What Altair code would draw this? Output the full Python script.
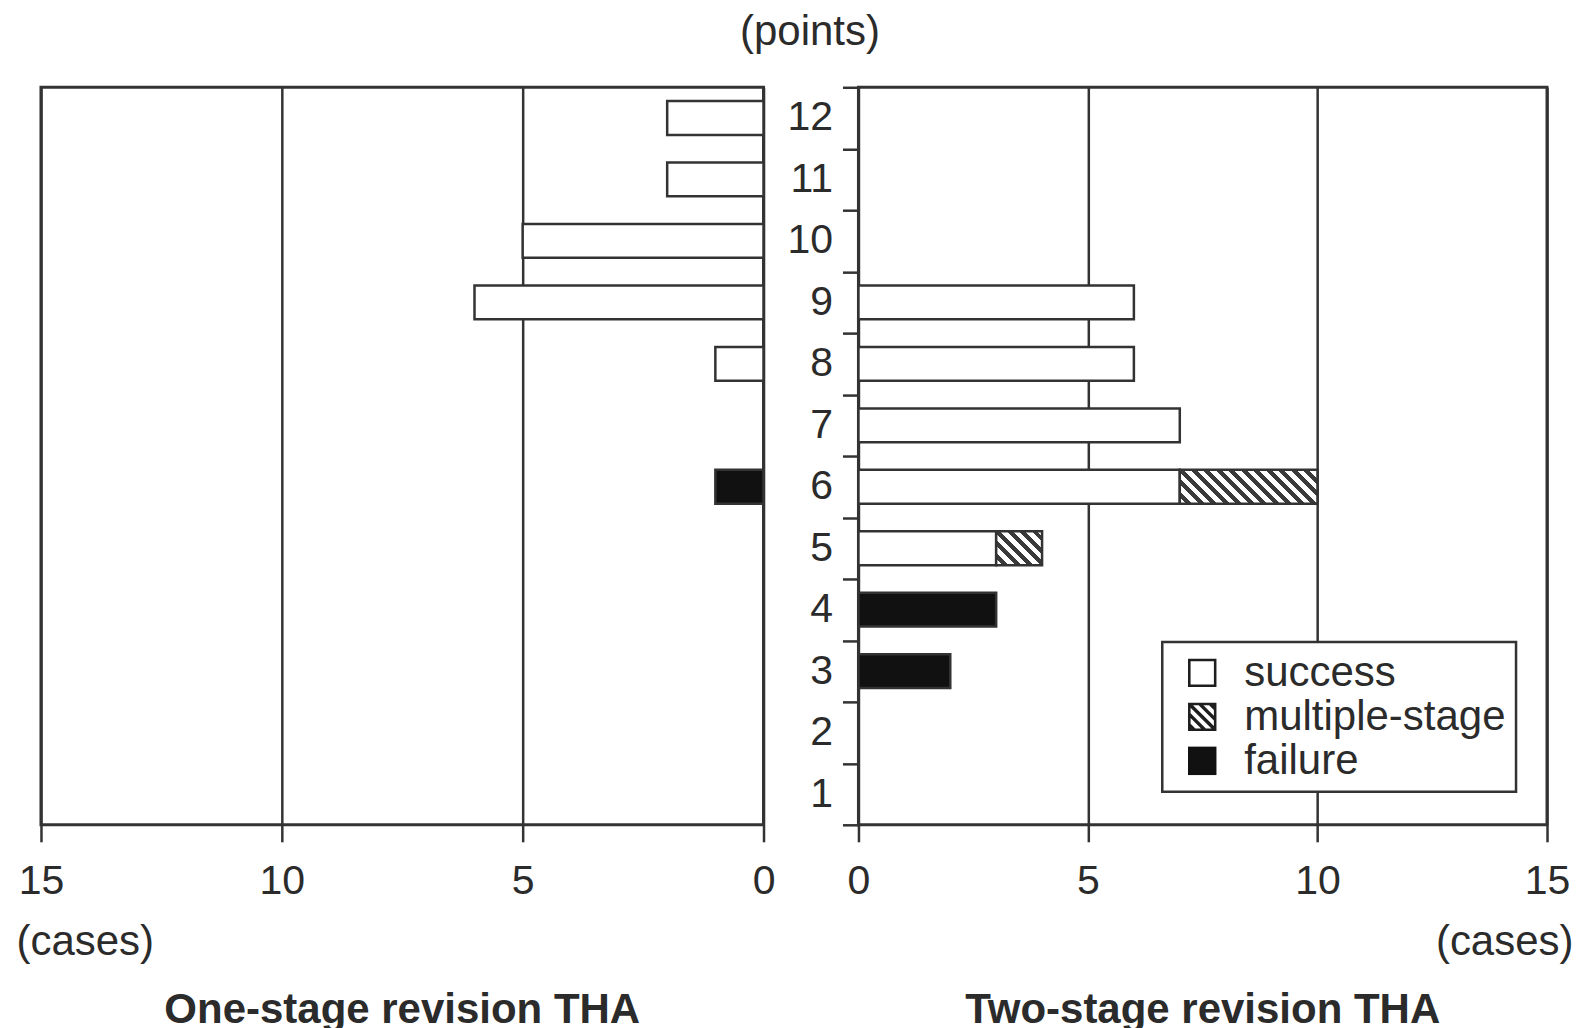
import altair as alt
import pandas as pd

# ---------------- data ----------------
points = [12, 11, 10, 9, 8, 7, 6, 5, 4, 3, 2, 1]
outcomes = ["success", "multiple-stage", "failure"]

one_success = [2, 2, 5, 6, 1, 0, 0, 0, 0, 0, 0, 0]
one_multiple = [0, 0, 0, 0, 0, 0, 0, 0, 0, 0, 0, 0]
one_failure = [0, 0, 0, 0, 0, 0, 1, 0, 0, 0, 0, 0]

two_success = [0, 0, 0, 6, 6, 7, 7, 3, 0, 0, 0, 0]
two_multiple = [0, 0, 0, 0, 0, 0, 3, 1, 0, 0, 0, 0]
two_failure = [0, 0, 0, 0, 0, 0, 0, 0, 3, 2, 0, 0]

x_ticks = [0, 5, 10, 15]
x_max = 15

# ---------------- layout / style ----------------
FONT = "Liberation Sans"
INK = "#2b2b2b"
LINE = "#333333"
HATCH_DARK = "#3a3a3a"
SYMBOL_INK = "#1e1e1e"
LEFT_W, RIGHT_W, PLOT_H = 723, 689, 738
BAR_FRAC = 0.55
STEP = PLOT_H / len(points)
BAR_H = STEP * BAR_FRAC


def long_df(succ, mult, fail):
    rows = []
    for i, p in enumerate(points):
        for rank, (o, vals) in enumerate(zip(outcomes, [succ, mult, fail])):
            if vals[i] > 0:
                rows.append({"points": p, "outcome": o, "cases": vals[i], "rank": rank})
    return pd.DataFrame(rows)


df_one = long_df(one_success, one_multiple, one_failure)
df_two = long_df(two_success, two_multiple, two_failure)


def hatch(w, h, period=12.5, dark=0.45, c_dark=HATCH_DARK, c_light="#ffffff"):
    """Diagonal '\\' stripes as a linear gradient over a w x h box."""
    k = (w + h) / (w * w + h * h)
    n = (w + h) / period
    stops = []
    j = 0
    while j < n:
        a = j / n
        b = min((j + 1 - dark) / n, 1.0)
        c = min((j + 1) / n, 1.0)
        stops += [{"offset": a, "color": c_light}, {"offset": b, "color": c_light}]
        if b < 1.0:
            stops += [{"offset": b, "color": c_dark}, {"offset": c, "color": c_dark}]
        j += 1
    return {"gradient": "linear", "x1": 0, "y1": 1, "x2": k * w, "y2": 1 - k * h, "stops": stops}


# ---- legend symbol paths in the unit box -1..1 (holes wound the other way) ----
def _clip(poly, a, b, c):
    out = []
    n = len(poly)
    for i in range(n):
        p, q = poly[i], poly[(i + 1) % n]
        fp = a * p[0] + b * p[1] - c
        fq = a * q[0] + b * q[1] - c
        if fp <= 0:
            out.append(p)
        if (fp < 0 < fq) or (fq < 0 < fp):
            t = fp / (fp - fq)
            out.append((p[0] + t * (q[0] - p[0]), p[1] + t * (q[1] - p[1])))
    return out


def _area(poly):
    n = len(poly)
    return sum(poly[i][0] * poly[(i + 1) % n][1] - poly[(i + 1) % n][0] * poly[i][1] for i in range(n))


def _path(poly):
    return "M" + "L".join(f"{x:.3f},{y:.3f}" for x, y in poly) + "Z"


def _hole(poly):
    return _path(poly[::-1] if _area(poly) > 0 else poly)


OUTER = [(-1, -1), (1, -1), (1, 1), (-1, 1)]
e = 0.82
INNER = [(-e, -e), (e, -e), (e, e), (-e, e)]

solid_path = _path(OUTER)
ring_path = _path(OUTER) + _hole(INNER)
hatch_path = _path(OUTER)
for centre in [-1.1, -0.37, 0.37, 1.1]:
    hw = 0.2
    poly = _clip(INNER, -1, 1, -(centre - hw))  # x - y >= centre - hw
    poly = _clip(poly, 1, -1, centre + hw)       # x - y <= centre + hw
    if len(poly) >= 3:
        hatch_path += _hole(poly)

# scale colours serve the legend symbols; bars get white / hatch through conditions
fill_scale = alt.Scale(domain=outcomes, range=[SYMBOL_INK, SYMBOL_INK, "#111111"])
shape_scale = alt.Scale(domain=outcomes, range=[ring_path, hatch_path, solid_path])

px_right = RIGHT_W / x_max
conds_one = [{"test": "datum.outcome === 'success'", "value": "#ffffff"}]
conds_two = [{"test": "datum.outcome === 'success'", "value": "#ffffff"}]
for i, p in enumerate(points):
    if two_multiple[i] > 0:
        conds_two.append({
            "test": f"datum.outcome === 'multiple-stage' && datum.points === {p}",
            "value": hatch(two_multiple[i] * px_right, BAR_H),
        })

y_scale = alt.Scale(domain=points, paddingInner=0, paddingOuter=0)

legend = alt.Legend(
    title=None, orient="none", legendX=304, legendY=555,
    symbolSize=810, symbolStrokeColor=SYMBOL_INK, symbolStrokeWidth=0,
    symbolOffset=9, labelOffset=21, symbolOpacity=1,
    labelFontSize=42, labelFont=FONT, labelColor=INK, labelLimit=400,
    padding=10, rowPadding=2, strokeColor=LINE, fillColor="#ffffff",
)

bar_mark = dict(stroke=LINE, strokeWidth=2.5, height=alt.RelativeBandSize(BAR_FRAC))

# ---------------- left panel ----------------
left = alt.Chart(df_one).mark_bar(**bar_mark).encode(
    x=alt.X(
        "cases:Q",
        stack="zero",
        scale=alt.Scale(domain=[0, x_max], reverse=True, nice=False),
        axis=alt.Axis(
            values=x_ticks, grid=True, tickSize=17, labelPadding=20, labelFlush=False,
            title="(cases)", titleX=-25, titleY=117, titleAlign="left",
            titleBaseline="middle", titleAngle=0,
        ),
    ),
    y=alt.Y("points:O", scale=y_scale, axis=None),
    fill=alt.Fill("outcome:N", scale=fill_scale, condition=conds_one, legend=None),
    order=alt.Order("rank:Q"),
).properties(
    width=LEFT_W,
    height=PLOT_H,
    title=alt.TitleParams(
        "One-stage revision THA", orient="bottom", anchor="middle", offset=27,
        fontSize=42, fontWeight="bold", font=FONT, color=INK,
    ),
)

# ---------------- right panel ----------------
bars_two = alt.Chart(df_two).mark_bar(**bar_mark).encode(
    x=alt.X(
        "cases:Q",
        stack="zero",
        scale=alt.Scale(domain=[0, x_max], nice=False),
        axis=alt.Axis(
            values=x_ticks, grid=True, tickSize=17, labelPadding=20, labelFlush=False,
            title="(cases)", titleX=RIGHT_W + 26, titleY=117, titleAlign="right",
            titleBaseline="middle", titleAngle=0,
        ),
    ),
    y=alt.Y(
        "points:O",
        scale=y_scale,
        axis=alt.Axis(
            tickBand="extent", tickSize=16, labelPadding=10, labelAngle=0,
            title="(points)", titleAngle=0, titleAlign="center", titleBaseline="middle",
            titleX=-49, titleY=-56,
        ),
    ),
    fill=alt.Fill("outcome:N", scale=fill_scale, condition=conds_two, legend=legend),
    order=alt.Order("rank:Q"),
)

legend_layer = alt.Chart(df_two).transform_filter("false").mark_point(
    filled=True, opacity=1
).encode(
    fill=alt.Fill("outcome:N", scale=fill_scale, legend=legend),
    shape=alt.Shape("outcome:N", scale=shape_scale, legend=legend),
)

right = alt.layer(bars_two, legend_layer).properties(
    width=RIGHT_W,
    height=PLOT_H,
    title=alt.TitleParams(
        "Two-stage revision THA", orient="bottom", anchor="middle", offset=27,
        fontSize=42, fontWeight="bold", font=FONT, color=INK,
    ),
)

chart = (
    alt.hconcat(left, right, spacing=95, bounds="flush")
    .resolve_scale(x="independent", y="independent", fill="independent", shape="independent")
    .resolve_legend(fill="independent", shape="independent")
    .properties(padding={"left": 6, "top": 0, "right": 0, "bottom": 2})
    .configure(font=FONT, background="#ffffff")
    .configure_view(stroke=LINE, strokeWidth=3)
    .configure_legend(strokeWidth=2.5)
    .configure_axis(
        labelFont=FONT, labelFontSize=41, labelColor=INK,
        titleFont=FONT, titleFontSize=42, titleFontWeight="normal", titleColor=INK,
        tickColor=LINE, tickWidth=2.5, gridColor=LINE, gridWidth=2.5, gridOpacity=1,
        domain=False,
    )
)

chart.save("out.html", embed_options={"renderer": "svg", "actions": False})
